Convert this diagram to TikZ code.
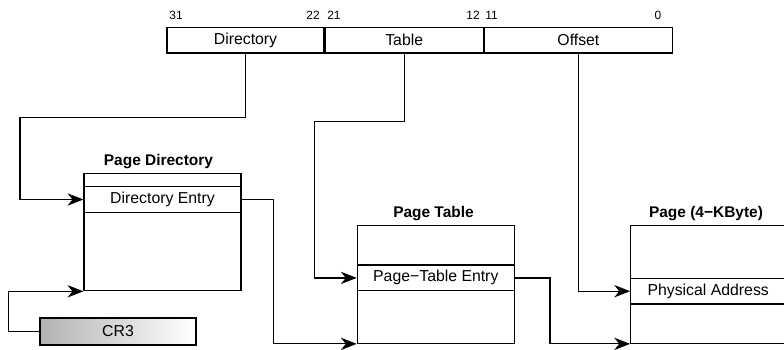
\documentclass[tikz,border=0pt]{standalone}
\usepackage{fontspec}
\setmainfont{Liberation Sans}
\usepackage{tikz}
\usetikzlibrary{arrows.meta,positioning,calc}

\begin{document}
\begin{tikzpicture}[
    x=0.02cm, y=-0.02cm,
    fieldbox/.style={rectangle, draw, line width=0.7pt, inner sep=0pt, minimum height=0.514cm, font=\fontsize{9}{10}\selectfont},
    bitnum/.style={inner sep=0pt, font=\fontsize{6.8}{8}\selectfont},
    tblbox/.style={rectangle, draw, line width=0.7pt, inner sep=0pt, minimum width=3.14cm, minimum height=2.35cm},
    entrybox/.style={rectangle, draw, line width=0.7pt, inner sep=0pt, minimum width=3.14cm, minimum height=0.514cm, font=\fontsize{9}{10}\selectfont},
    tbltitle/.style={inner sep=0pt, font=\fontsize{8.8}{10}\selectfont\bfseries},
    regbox/.style={rectangle, draw, line width=0.7pt, inner sep=0pt, minimum width=3.12cm, minimum height=0.54cm, left color=black!30, right color=white, font=\fontsize{9}{10}\selectfont},
    wire/.style={-{Stealth[length=9pt, width=7pt, inset=2.8pt]}, line width=0.7pt}
]
    \clip (0,0) rectangle (784,349);

    % linear address fields
    \node [fieldbox, minimum width=3.14cm] (dirf) at (245.5,40.2) {Directory};
    \node [fieldbox, minimum width=3.16cm, right=0pt of dirf] (tblf) {Table};
    \node [fieldbox, minimum width=3.76cm, right=0pt of tblf] (offf) {Offset};

    % bit positions
    \node [bitnum] (b31) at (176,15) {31};
    \node [bitnum, anchor=east] (b22) at (320,15) {22};
    \node [bitnum, anchor=west] (b21) at (327,15) {21};
    \node [bitnum, anchor=east] (b12) at (480,15) {12};
    \node [bitnum, anchor=west] (b11) at (485,15) {11};
    \node [bitnum] (b0) at (658,15) {0};

    % page directory
    \node [tblbox, minimum height=2.348cm] (pdir) at (162.5,232) {};
    \node [entrybox] (pdent) at (162.5,199.5) {Directory Entry};
    \node [tbltitle] (pdtitle) at (158.5,161.7) {Page Directory};

    % page table
    \node [tblbox] (ptab) at (435.8,284.5) {};
    \node [entrybox] (pten) at (435.8,277.9) {Page−Table Entry};
    \node [tbltitle] (pttitle) at (433.5,213.3) {Page Table};

    % 4K page
    \node [tblbox, minimum width=3.1cm] (pg) at (708.2,284.5) {};
    \node [entrybox, minimum width=3.1cm] (pgent) at (708.2,291.2) {Physical Address};
    \node [tbltitle] (pgtitle) at (706,213.3) {Page (4−KByte)};

    % control register
    \node [regbox] (cr3) at (118,331.5) {CR3};

    % connections
    \draw [wire] (dirf.south) -- ++(0,64) -| ($(pdent.west)+(-63.3,0)$) -- (pdent.west);
    \draw [wire] (tblf.south) -- ++(0,67.7) -| ($(pten.west)+(-42.3,0)$) -- (pten.west);
    \draw [wire] (offf.south) |- (pgent.west);
    \draw [wire] (cr3.west) -- ++(-30.7,0) |- (pdir.south west);
    \draw [wire] (pdent.east) -- ++(31.7,0) |- (ptab.south west);
    \draw [wire] (pten.east) -- ++(35,0) |- (pg.south west);
\end{tikzpicture}
\end{document}
